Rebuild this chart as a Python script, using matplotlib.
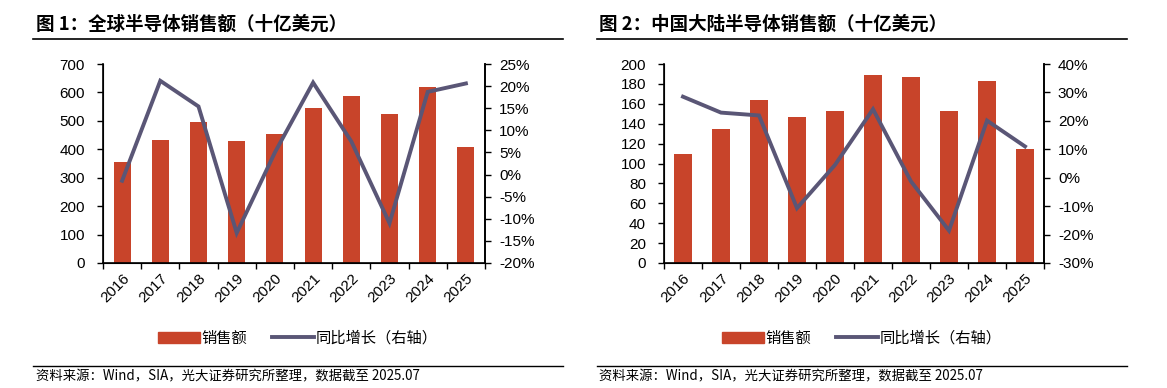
import matplotlib
matplotlib.use("Agg")
import matplotlib.pyplot as plt
from matplotlib.ticker import FuncFormatter, MultipleLocator
from matplotlib.patches import Patch
from matplotlib.lines import Line2D

plt.rcParams['font.family'] = ['Liberation Sans', 'Noto Sans CJK SC', 'DejaVu Sans']

years = ['2016', '2017', '2018', '2019', '2020', '2021', '2022', '2023', '2024', '2025']

global_sales = [354, 432, 496, 428, 453, 544, 587, 523, 618, 407]
global_yoy = [-1.4, 21.2, 15.4, -13.2, 5.0, 20.8, 7.5, -11.0, 18.7, 20.6]

china_sales = [109.5, 134.5, 163.5, 146.5, 152.5, 188.5, 186.5, 152.5, 182.5, 114.5]
china_yoy = [28.5, 22.9, 21.9, -10.7, 4.5, 24.1, -1.3, -18.6, 20.1, 11.0]

titles = ['图 1：全球半导体销售额（十亿美元）', '图 2：中国大陆半导体销售额（十亿美元）']
source = '资料来源：Wind，SIA，光大证券研究所整理，数据截至 2025.07'
bar_label = '销售额'
line_label = '同比增长（右轴）'

BAR_C = '#C8442A'
LINE_C = '#5A5676'
CJK = ['Noto Sans CJK SC', 'DejaVu Sans']

W, H = 1167, 388
fig = plt.figure(figsize=(W / 100, H / 100), dpi=100)

def px(x0, y0, x1, y1):
    return [x0 / W, 1 - y1 / H, (x1 - x0) / W, (y1 - y0) / H]

configs = [
    dict(sales=global_sales, yoy=global_yoy, rect=(103, 64, 485, 263),
         ylim=(0, 700), ystep=100, y2lim=(-20, 25), y2step=5,
         title_x=36, rule=(33, 563), leg_x=158),
    dict(sales=china_sales, yoy=china_yoy, rect=(664, 64, 1044, 263),
         ylim=(0, 200), ystep=20, y2lim=(-30, 40), y2step=10,
         title_x=599, rule=(597, 1127), leg_x=722),
]

for i, c in enumerate(configs):
    ax = fig.add_axes(px(*c['rect']))
    x = list(range(len(years)))
    ax.bar(x, c['sales'], width=0.45, color=BAR_C, zorder=2)
    ax.set_xlim(-0.5, len(years) - 0.5)
    ax.set_ylim(*c['ylim'])
    ax.yaxis.set_major_locator(MultipleLocator(c['ystep']))
    ax.set_xticks([k - 0.5 for k in range(len(years) + 1)], minor=False)
    ax.set_xticklabels([])
    ax.set_xticks(x, minor=True)
    ax.set_xticklabels(years, minor=True, rotation=45, ha='right', va='top',
                       rotation_mode='anchor', fontsize=11)
    ax.tick_params(axis='x', which='minor', length=0, pad=6)
    ax.tick_params(axis='x', which='major', length=4, width=1, direction='out')
    ax.tick_params(axis='y', length=4, width=1, direction='out', labelsize=11, pad=9)
    ax.spines['top'].set_visible(False)
    for s in ['left', 'bottom', 'right']:
        ax.spines[s].set_linewidth(1.2)
        ax.spines[s].set_color('black')

    ax2 = ax.twinx()
    ax2.plot(x, c['yoy'], color=LINE_C, lw=2.8, zorder=3, solid_joinstyle='miter')
    ax2.set_ylim(*c['y2lim'])
    ax2.yaxis.set_major_locator(MultipleLocator(c['y2step']))
    ax2.yaxis.set_major_formatter(FuncFormatter(lambda v, p: '%d%%' % round(v)))
    ax2.tick_params(axis='y', length=4, width=1, direction='out', labelsize=11, pad=6)
    ax2.spines['top'].set_visible(False)
    ax2.spines['right'].set_linewidth(1.2)

    fig.text(c['title_x'] / W, 1 - 24 / H, titles[i], fontsize=13.3, fontweight='bold',
             family=CJK, va='center', ha='left')
    fig.add_artist(Line2D([c['rule'][0] / W, c['rule'][1] / W], [1 - 39 / H, 1 - 39 / H],
                          color='black', lw=1.2))
    fig.add_artist(Line2D([c['rule'][0] / W, c['rule'][1] / W], [1 - 366 / H, 1 - 366 / H],
                          color='black', lw=1.0))
    fig.text((c['title_x']) / W, 1 - 376 / H, source, fontsize=9.6, family=CJK,
             va='center', ha='left')

    handles = [Patch(color=BAR_C, label=bar_label),
               Line2D([0], [0], color=LINE_C, lw=2.8, label=line_label)]
    fig.legend(handles=handles, loc='center left',
               bbox_to_anchor=(c['leg_x'] / W, 1 - 338 / H), ncol=2, frameon=False,
               prop={'family': CJK, 'size': 11}, handlelength=2.75, handleheight=0.72,
               handletextpad=0.1, columnspacing=1.6, borderaxespad=0, borderpad=0)

fig.savefig('out.png', dpi=100)
